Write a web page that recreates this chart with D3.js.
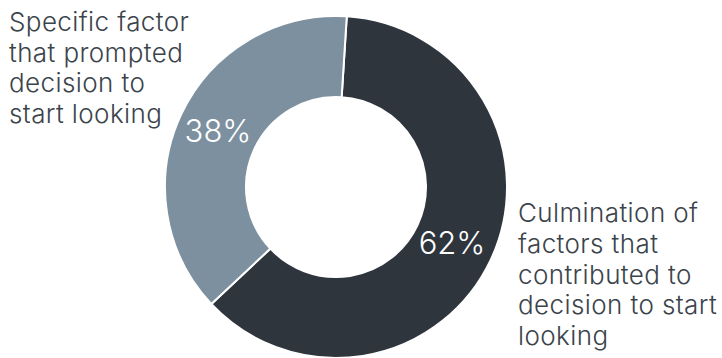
<!DOCTYPE html>
<html>
<head>
<meta charset="utf-8">
<script src="https://cdn.jsdelivr.net/npm/d3@7/dist/d3.min.js"></script>
<style>
  html, body { margin: 0; padding: 0; background: #fff; }
  svg { display: block; }
</style>
</head>
<body>
<svg id="chart" width="722" height="358"></svg>
<script>
// Share of respondents by what led them to start looking
const categories = [
  "Culmination of factors that contributed to decision to start looking",
  "Specific factor that prompted decision to start looking"
];
const values = [62, 38];
const colors = ["#2e353d", "#7d909f"];
const labelLines = [
  ["Culmination of", "factors that", "contributed to", "decision to start", "looking"],
  ["Specific factor", "that prompted", "decision to", "start looking"]
];

const width = 722, height = 358;
const cx = 336, cy = 187;
const outerR = 171, innerR = 90;
const startAngle = 0.063;

const svg = d3.select("#chart");
const g = svg.append("g").attr("transform", `translate(${cx},${cy})`);

const pie = d3.pie().sort(null).value(d => d)
  .startAngle(startAngle).endAngle(startAngle + 2 * Math.PI);
const arcs = pie(values);
const arc = d3.arc().innerRadius(innerR).outerRadius(outerR);

g.selectAll("path.slice")
  .data(arcs)
  .join("path")
  .attr("class", "slice")
  .attr("d", arc)
  .attr("fill", (d, i) => colors[i])
  .attr("stroke", "#fff")
  .attr("stroke-width", 2);

// Percent labels inside the ring, near the outer edge of each slice
const pctPos = [[452, 254], [218, 142]];
g.selectAll("text.pct")
  .data(arcs)
  .join("text")
  .attr("class", "pct")
  .attr("x", (d, i) => pctPos[i][0] - cx)
  .attr("y", (d, i) => pctPos[i][1] - cy)
  .attr("text-anchor", "middle")
  .attr("fill", "#ffffff")
  .style("font-family", "Inter, sans-serif")
  .style("font-weight", 300)
  .style("font-size", "31px")
  .text(d => `${d.data}%`);

// Category labels beside the ring
const labelPos = [[518, 222], [9, 30.7]];
const lineH = 30.8;
labelLines.forEach((lines, i) => {
  const t = svg.append("text")
    .attr("x", labelPos[i][0])
    .attr("y", labelPos[i][1])
    .attr("fill", "#3b434b")
    .style("font-family", "Inter, sans-serif")
    .style("font-weight", 300)
    .style("font-size", "26px")
    .style("letter-spacing", "0.4px");
  lines.forEach((line, j) => {
    t.append("tspan")
      .attr("x", labelPos[i][0])
      .attr("y", labelPos[i][1] + j * lineH)
      .text(line);
  });
});
</script>
</body>
</html>
